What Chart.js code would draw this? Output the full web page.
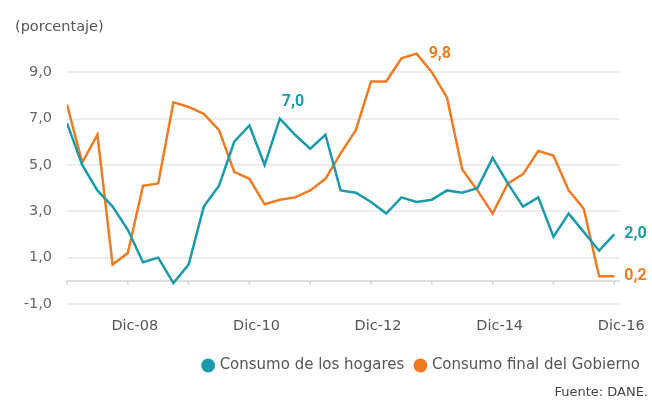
<!DOCTYPE html>
<html>
<head>
<meta charset="utf-8">
<script src="https://cdn.jsdelivr.net/npm/chart.js@4"></script>
<style>
  html, body { margin: 0; padding: 0; background: #fff; }
  #wrap { position: relative; width: 652px; height: 409px; }
</style>
</head>
<body>
<div id="wrap"><canvas id="chartConsumo" width="652" height="409"></canvas></div>
<script>
// trimestres dic-07 .. dic-16
const categories = [
  'Dic-07', 'Mar-08', 'Jun-08', 'Sep-08', 'Dic-08', 'Mar-09', 'Jun-09', 'Sep-09', 'Dic-09',
  'Mar-10', 'Jun-10', 'Sep-10', 'Dic-10', 'Mar-11', 'Jun-11', 'Sep-11', 'Dic-11',
  'Mar-12', 'Jun-12', 'Sep-12', 'Dic-12', 'Mar-13', 'Jun-13', 'Sep-13', 'Dic-13',
  'Mar-14', 'Jun-14', 'Sep-14', 'Dic-14', 'Mar-15', 'Jun-15', 'Sep-15', 'Dic-15',
  'Mar-16', 'Jun-16', 'Sep-16', 'Dic-16'
];
const hogares = [
  6.8, 5.0, 3.9, 3.2, 2.2, 0.8, 1.0, -0.1, 0.7,
  3.2, 4.1, 6.0, 6.7, 5.0, 7.0, 6.3, 5.7,
  6.3, 3.9, 3.8, 3.4, 2.9, 3.6, 3.4, 3.5,
  3.9, 3.8, 4.0, 5.3, 4.2, 3.2, 3.6, 1.9,
  2.9, 2.1, 1.3, 2.0
];
const gobierno = [
  7.6, 5.1, 6.3, 0.7, 1.2, 4.1, 4.2, 7.7, 7.5,
  7.2, 6.5, 4.7, 4.4, 3.3, 3.5, 3.6, 3.9,
  4.4, 5.5, 6.5, 8.6, 8.6, 9.6, 9.8, 9.0,
  7.9, 4.8, 3.9, 2.9, 4.2, 4.6, 5.6, 5.4,
  3.9, 3.1, 0.2, 0.2
];
const xTickLabels = ['Dic-08', 'Dic-10', 'Dic-12', 'Dic-14', 'Dic-16'];
const seriesNames = ['Consumo de los hogares', 'Consumo final del Gobierno'];

const TEAL = '#1a9aab';
const ORANGE = '#f07b22';
const FONT = '"DejaVu Sans", sans-serif';
const FONT_BOLD = 'Roboto, sans-serif';

const fmt = v => v.toFixed(1).replace('.', ',');
const toXY = arr => arr.map((v, i) => ({ x: i, y: v }));

// etiquetas de valor: [serie, indice, dx, dy, align]
const valueLabels = [
  [0, categories.indexOf('Jun-11'), 2, -17, 'left'],
  [1, categories.indexOf('Sep-13'), 12, 0, 'left'],
  [0, categories.length - 1, 10, 0, 'left'],
  [1, categories.length - 1, 10, 0, 'left']
];

const extras = {
  id: 'extras',
  afterDatasetsDraw(chart) {
    const { ctx, scales: { x, y } } = chart;
    ctx.save();
    // marcas anuales sobre la linea de cero
    ctx.strokeStyle = '#d6d6d6';
    ctx.lineWidth = 1.5;
    const y0 = y.getPixelForValue(0);
    categories.forEach((c, i) => {
      if (c.startsWith('Dic')) {
        const px = x.getPixelForValue(i);
        ctx.beginPath();
        ctx.moveTo(px, y0);
        ctx.lineTo(px, y0 + 4);
        ctx.stroke();
      }
    });
    // valores destacados
    ctx.font = 'bold 16px ' + FONT_BOLD;
    ctx.textBaseline = 'middle';
    valueLabels.forEach(([s, i, dx, dy, al]) => {
      const pt = chart.getDatasetMeta(s).data[i];
      ctx.fillStyle = s === 0 ? TEAL : ORANGE;
      ctx.textAlign = al;
      ctx.fillText(fmt(chart.data.datasets[s].data[i].y), pt.x + dx, pt.y + dy);
    });
    // textos
    ctx.fillStyle = '#555';
    ctx.font = '14.5px ' + FONT;
    ctx.textAlign = 'left';
    ctx.fillText('(porcentaje)', 15, 27);
    ctx.fillStyle = '#444';
    ctx.font = '13px ' + FONT;
    ctx.textAlign = 'right';
    ctx.fillText('Fuente: DANE.', 648, 393);
    ctx.restore();
  }
};

new Chart(document.getElementById('chartConsumo'), {
  type: 'line',
  data: {
    datasets: [
      { label: seriesNames[0], data: toXY(hogares), borderColor: TEAL, backgroundColor: TEAL,
        borderWidth: 2.5, pointRadius: 0, tension: 0 },
      { label: seriesNames[1], data: toXY(gobierno), borderColor: ORANGE, backgroundColor: ORANGE,
        borderWidth: 2.5, pointRadius: 0, tension: 0 }
    ]
  },
  options: {
    responsive: false,
    animation: false,
    layout: { padding: { top: 49, right: 0, bottom: 26, left: 0 } },
    plugins: {
      legend: {
        position: 'bottom',
        align: 'end',
        labels: {
          usePointStyle: true,
          pointStyle: 'circle',
          boxWidth: 8,
          boxHeight: 8,
          color: '#555',
          font: { family: FONT, size: 15 },
          padding: 12
        }
      },
      tooltip: { enabled: false }
    },
    scales: {
      x: {
        type: 'linear',
        min: 0,
        max: categories.length - 1 + 0.36,
        afterFit: s => { s.height = 42; },
        afterBuildTicks: s => {
          s.ticks = xTickLabels.map(l => ({ value: categories.indexOf(l) }));
        },
        ticks: {
          callback: v => categories[v],
          color: '#555',
          font: { family: FONT, size: 14.5 },
          padding: 14,
          labelOffset: 7,
          maxRotation: 0,
          autoSkip: false
        },
        grid: { display: false, drawTicks: false },
        border: { display: false }
      },
      y: {
        min: -1,
        max: 10,
        afterFit: s => { s.width = 67; },
        ticks: {
          stepSize: 1,
          callback: v => (Math.abs(v % 2) === 1 ? fmt(v) : ''),
          color: '#666',
          font: { family: FONT, size: 14.5 },
          padding: 15
        },
        grid: {
          drawTicks: false,
          lineWidth: 2,
          color: c => {
            const v = c.tick.value;
            if (v === 0) return '#dedede';
            return Math.abs(v % 2) === 1 ? '#ececec' : 'rgba(0,0,0,0)';
          }
        },
        border: { display: false }
      },
      y2: {
        position: 'right',
        display: true,
        afterFit: s => { s.width = 30; },
        ticks: { display: false },
        grid: { display: false, drawTicks: false },
        border: { display: false }
      }
    }
  },
  plugins: [extras]
});
</script>
</body>
</html>
